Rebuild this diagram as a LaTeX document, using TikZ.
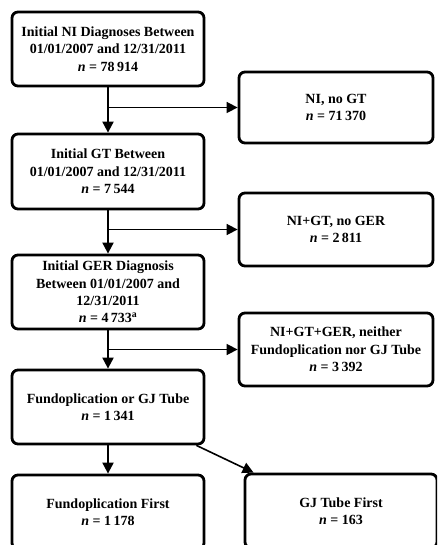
\documentclass[tikz,border=0pt]{standalone}
\usepackage{fontspec}
\setmainfont{Liberation Serif}
\usetikzlibrary{arrows.meta}
\begin{document}
\begin{tikzpicture}[x=1pt,y=-1pt,
  box/.style={draw=black, line width=2.8pt, rounded corners=6pt, fill=white,
    minimum width=192pt, align=center, inner sep=0pt,
    font=\fontsize{14}{17.3}\selectfont\bfseries},
  conn/.style={line width=2pt, -{Triangle[length=11pt,width=11pt]}},
  connthin/.style={line width=1.6pt, -{Triangle[length=11pt,width=11pt]}}]
\useasboundingbox[fill=white] (0,0) rectangle (437,545);
\clip (0,0) rectangle (437,545);
\node[box, minimum height=74pt] (b1) at (108,49) {Initial NI Diagnoses Between\\01/01/2007 and 12/31/2011\\\textit{n} = 78\,914};
\node[box, minimum height=71pt, minimum width=194pt] (r1) at (336,107.5) {NI, no GT\\\textit{n} = 71\,370};
\node[box, minimum height=75pt] (b2) at (108,171.5) {Initial GT Between\\01/01/2007 and 12/31/2011\\\textit{n} = 7\,544};
\node[box, minimum height=73pt, minimum width=194pt] (r2) at (336,229.5) {NI+GT, no GER\\\textit{n} = 2\,811};
\node[box, minimum height=74pt] (b3) at (108,292) {Initial GER Diagnosis\\Between 01/01/2007 and\\12/31/2011\\\textit{n} = 4\,733\textsuperscript{a}};
\node[box, minimum height=73pt, minimum width=194pt] (r3) at (336,349.5) {NI+GT+GER, neither\\Fundoplication nor GJ Tube\\\textit{n} = 3\,392};
\node[box, minimum height=74pt] (b4) at (108,407) {Fundoplication or GJ Tube\\\textit{n} = 1\,341};
\node[box, minimum height=74pt] (b5) at (108,512) {Fundoplication First\\\textit{n} = 1\,178};
\node[box, minimum height=74pt] (b6) at (341,511) {GJ Tube First\\\textit{n} = 163};
\coordinate (j1) at (b1.south |- r1.west);
\coordinate (j2) at (b2.south |- r2.west);
\coordinate (j3) at (b3.south |- r3.west);
\draw[conn] (b1.south) -- (b2.north);
\draw[connthin] (j1) -- (r1.west);
\draw[conn] (b2.south) -- (b3.north);
\draw[connthin] (j2) -- (r2.west);
\draw[conn] (b3.south) -- (b4.north);
\draw[connthin] (j3) -- (r3.west);
\draw[conn] (b4.south) -- (b5.north);
\draw[connthin] ([xshift=-9pt]b4.south east) -- ([xshift=10pt]b6.north west);
\end{tikzpicture}
\end{document}
